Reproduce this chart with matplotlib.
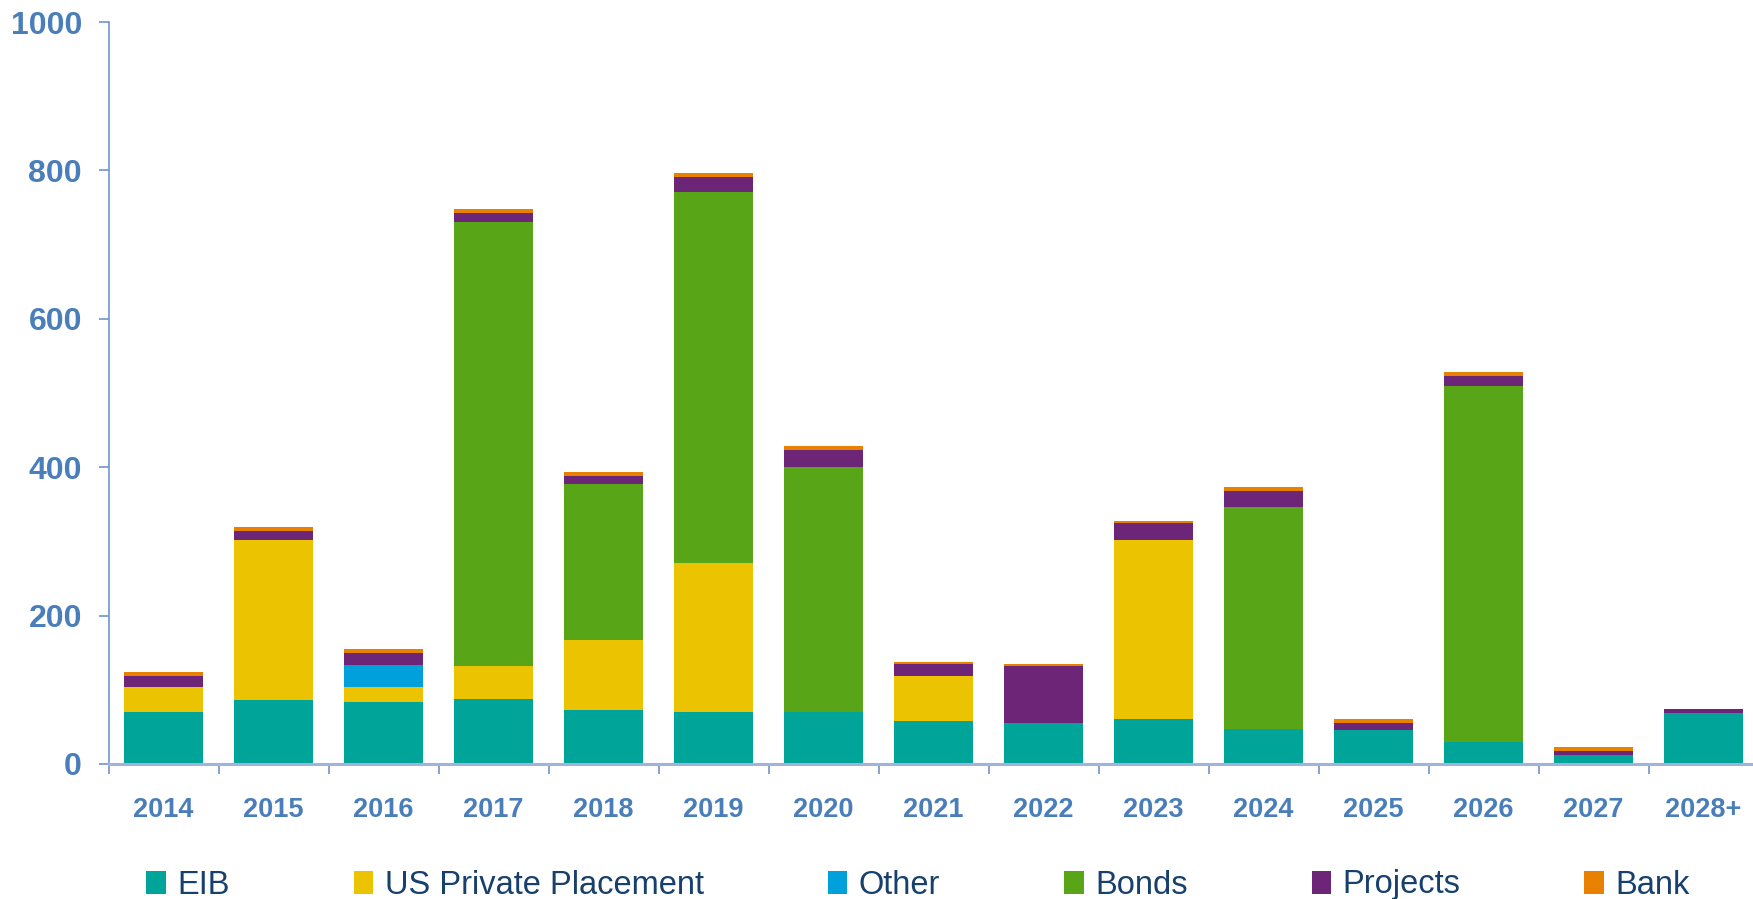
import numpy as np
import matplotlib.pyplot as plt
from matplotlib.patches import Patch
from matplotlib.ticker import FixedLocator

# debt maturity profile by funding source
years = ['2014', '2015', '2016', '2017', '2018', '2019', '2020', '2021',
         '2022', '2023', '2024', '2025', '2026', '2027', '2028+']
eib      = [70, 86, 84, 88, 73, 70, 70, 58, 55, 61, 47, 46, 30, 12, 69]
uspp     = [34, 216, 20, 44, 94, 201, 0, 61, 0, 241, 0, 0, 0, 0, 0]
other    = [0, 0, 30, 0, 0, 0, 0, 0, 0, 0, 0, 0, 0, 0, 0]
bonds    = [0, 0, 0, 598, 210, 500, 330, 0, 0, 0, 299, 0, 479, 0, 0]
projects = [15, 12, 16, 13, 11, 20, 23, 16, 77, 23, 22, 9, 14, 6, 5]
bank     = [5, 5, 5, 5, 5, 5, 5, 3, 3, 3, 5, 5, 5, 5, 0]

names = ['EIB', 'US Private Placement', 'Other', 'Bonds', 'Projects', 'Bank']
colors = ['#00A499', '#EBC300', '#00A0DC', '#58A618', '#6C2577', '#E88000']
series = [eib, uspp, other, bonds, projects, bank]

tick_blue = '#4A7EBB'
navy = '#17406D'

fig = plt.figure(figsize=(17.53, 8.99), dpi=100)
ax = fig.add_axes([0.0619, 0.1502, 0.9381, 0.8253])

x = np.arange(len(years))
bottom = np.zeros(len(years))
for vals, c in zip(series, colors):
    ax.bar(x, vals, width=0.71, bottom=bottom, color=c, linewidth=0)
    bottom += np.array(vals)

ax.set_xlim(-0.5, 14.45)
ax.set_ylim(0, 1000)

for s in ['top', 'right']:
    ax.spines[s].set_visible(False)
ax.spines['left'].set_color('#6F93CF')
ax.spines['left'].set_linewidth(1.2)
ax.spines['bottom'].set_color('#9DB5DA')
ax.spines['bottom'].set_linewidth(2.2)

ax.set_yticks(range(0, 1001, 200))
ax.tick_params(axis='y', direction='out', length=7, width=1.2, color='#6F93CF',
               pad=12, labelsize=23, labelcolor=tick_blue)
for lab in ax.get_yticklabels():
    lab.set_fontweight('bold')
    lab.set_family(['Liberation Sans Narrow', 'Liberation Sans'])

ax.set_xticks(x)
ax.set_xticklabels(years)
ax.xaxis.set_minor_locator(FixedLocator(np.arange(-0.5, 14.5, 1.0)))
ax.tick_params(axis='x', which='major', length=0, pad=24, labelsize=19.5,
               labelcolor=tick_blue)
ax.tick_params(axis='x', which='minor', direction='out', length=7, width=1.2,
               color='#6F93CF')
for lab in ax.get_xticklabels():
    lab.set_fontweight('bold')
    lab.set_family(['Liberation Sans Narrow', 'Liberation Sans'])

handles = [Patch(facecolor=c, edgecolor='none') for c in colors]
fig.legend(handles, names, loc='center left', ncol=6,
           bbox_to_anchor=(146 / 1753, 1 - 885 / 899), frameon=False,
           borderpad=0, borderaxespad=0, handlelength=0.6, handleheight=0.7,
           handletextpad=0.35, columnspacing=3.8,
           prop={'family': 'Liberation Sans', 'size': 23.5},
           labelcolor=navy)

fig.savefig('out.png', dpi=100)
